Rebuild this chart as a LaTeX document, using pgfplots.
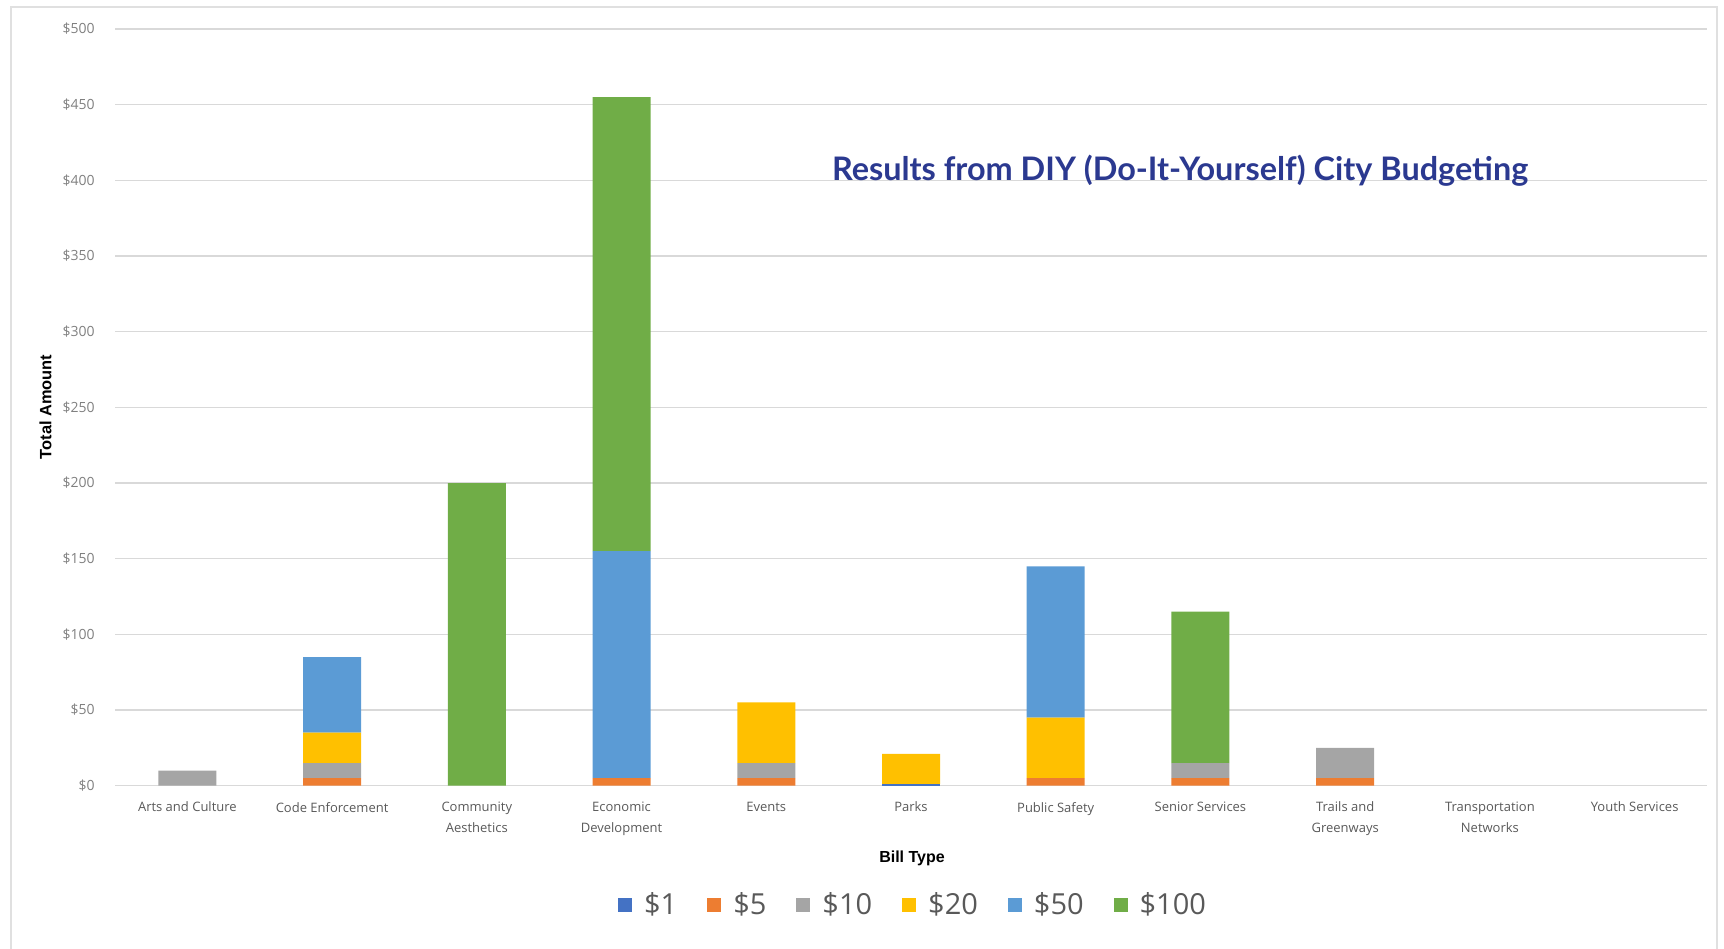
\documentclass[border=0pt]{standalone}
\usepackage{pgfplots}
\pgfplotsset{compat=1.18}
\usepackage{fontspec}
\setmainfont{Open Sans}
\newfontfamily\labelfont{Liberation Sans}
\newfontfamily\titlefont{Lato}
\definecolor{cA}{HTML}{4472C4}
\definecolor{cB}{HTML}{ED7D31}
\definecolor{cC}{HTML}{A5A5A5}
\definecolor{cD}{HTML}{FFC000}
\definecolor{cE}{HTML}{5B9BD5}
\definecolor{cF}{HTML}{70AD47}
\definecolor{titleblue}{HTML}{2B3990}
\definecolor{gridgray}{HTML}{D9D9D9}
\definecolor{tickgray}{HTML}{808080}
\definecolor{catgray}{HTML}{595959}
\definecolor{framegray}{HTML}{E0E0E0}
\begin{document}
\begin{tikzpicture}
\path[use as bounding box] (0,0) rectangle (862pt,474pt);
\draw[framegray, line width=0.8pt] (5.5pt,-2pt) -- (5.5pt,470.5pt) -- (858.5pt,470.5pt) -- (858.5pt,-2pt);
\begin{axis}[
  at={(57.5pt,81.15pt)}, anchor=south west,
  scale only axis, width=796pt, height=378.35pt,
  ybar stacked, bar width=29pt,
  xmin=-0.5, xmax=10.5, ymin=0, ymax=500,
  xtick={0,1,2,3,4,5,6,7,8,9,10},
  xticklabels={Arts and Culture, Code Enforcement, Community\\Aesthetics, Economic\\Development, Events, Parks, Public Safety, Senior Services, Trails and\\Greenways, Transportation\\Networks, Youth Services},
  ytick={0,50,...,500},
  yticklabel={\$\pgfmathprintnumber{\tick}},
  /pgf/number format/assume math mode=true,
  axis line style={draw=none},
  major tick length=0pt,
  ymajorgrids, grid style={gridgray, line width=0.6pt},
  yticklabel style={anchor=east, inner sep=0pt, xshift=-10pt, font=\fontsize{7}{8}\selectfont, text=tickgray},
  xticklabel style={anchor=north, inner sep=0pt, yshift=-8pt, align=center, font=\fontsize{6.5}{10.35}\selectfont, text=catgray},
  legend columns=6,
  legend style={at={(0.5019,-0.1577)}, anchor=center, draw=none, fill=none,
    font=\fontsize{14.5}{16}\selectfont, text=catgray,
    /tikz/every odd column/.append style={column sep=4pt},
    /tikz/every even column/.append style={column sep=13pt}},
  legend image code/.code={\draw[#1,draw=none] (0pt,-3.5pt) rectangle (7pt,3.5pt);},
]
\addplot[fill=cA, draw=none] coordinates {(0,0) (1,0) (2,0) (3,0) (4,0) (5,1) (6,0) (7,0) (8,0) (9,0) (10,0)};
\addplot[fill=cB, draw=none] coordinates {(0,0) (1,5) (2,0) (3,5) (4,5) (5,0) (6,5) (7,5) (8,5) (9,0) (10,0)};
\addplot[fill=cC, draw=none] coordinates {(0,10) (1,10) (2,0) (3,0) (4,10) (5,0) (6,0) (7,10) (8,20) (9,0) (10,0)};
\addplot[fill=cD, draw=none] coordinates {(0,0) (1,20) (2,0) (3,0) (4,40) (5,20) (6,40) (7,0) (8,0) (9,0) (10,0)};
\addplot[fill=cE, draw=none] coordinates {(0,0) (1,50) (2,0) (3,150) (4,0) (5,0) (6,100) (7,0) (8,0) (9,0) (10,0)};
\addplot[fill=cF, draw=none] coordinates {(0,0) (1,0) (2,200) (3,300) (4,0) (5,0) (6,0) (7,100) (8,0) (9,0) (10,0)};
\legend{\$1, \$5, \$10, \$20, \$50, \$100}
\end{axis}
\node[font=\labelfont\bfseries\fontsize{8.2}{9}\selectfont, rotate=90] at (22.7pt,270.5pt) {Total Amount};
\node[font=\labelfont\bfseries\fontsize{8}{9}\selectfont] at (456pt,44.6pt) {Bill Type};
\node[font=\titlefont\bfseries\fontsize{16.2}{18}\selectfont, text=titleblue] at (590pt,388.4pt) {Results from DIY (Do-It-Yourself) City Budgeting};
\end{tikzpicture}
\end{document}
